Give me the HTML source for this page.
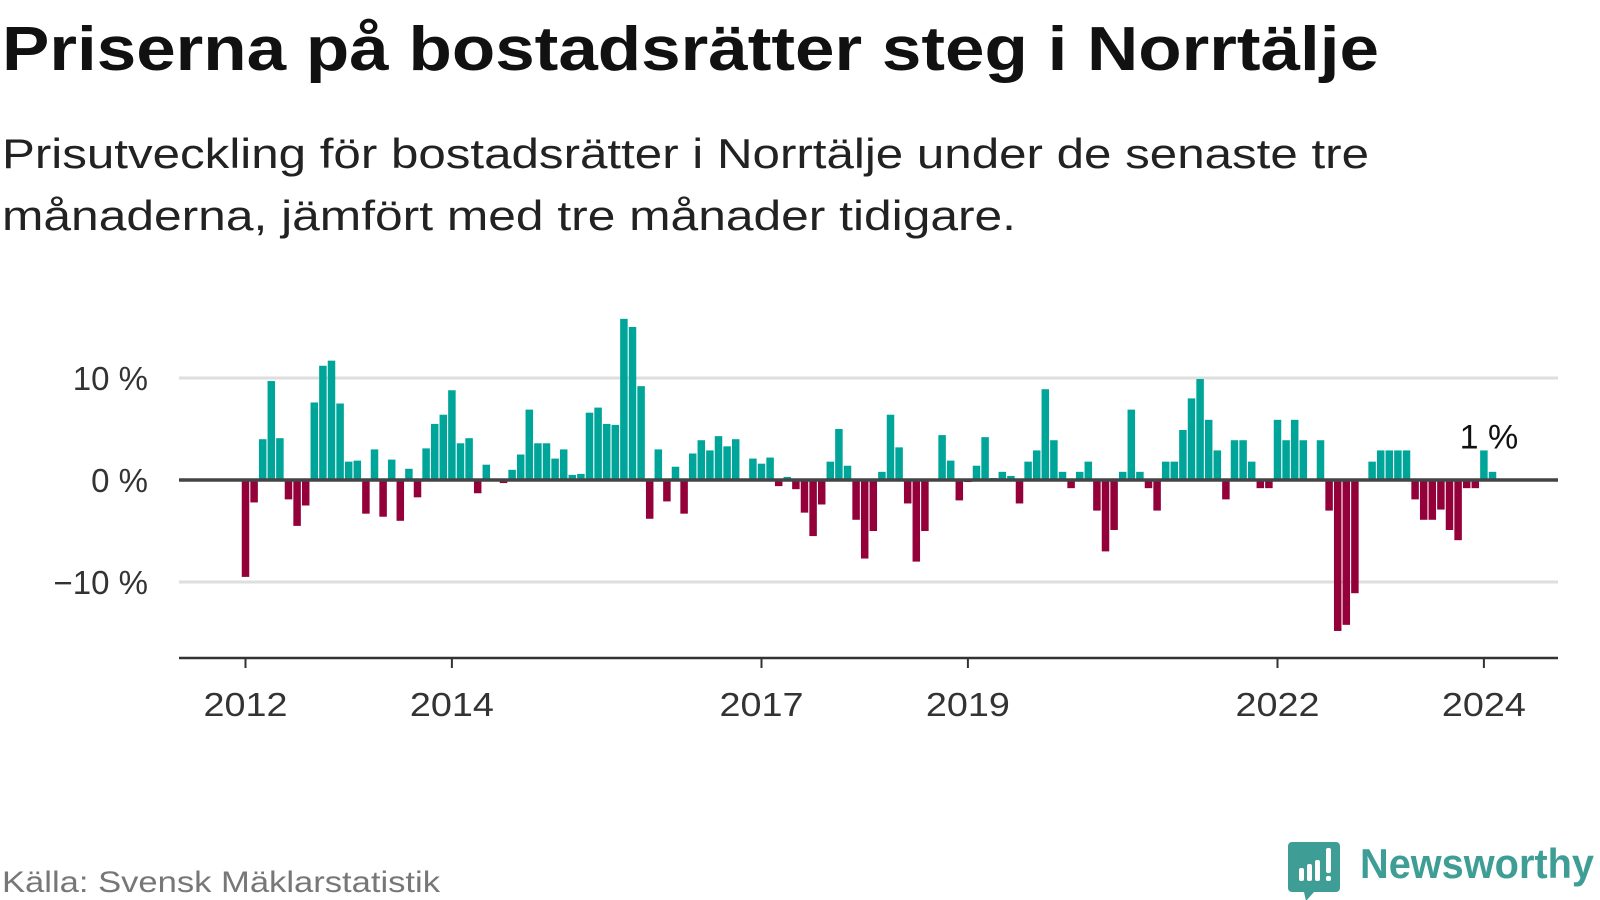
<!DOCTYPE html>
<html><head><meta charset="utf-8"><style>
html,body{margin:0;padding:0;background:#fff;width:1600px;height:900px;overflow:hidden}
svg{display:block;font-family:"Liberation Sans","DejaVu Sans",sans-serif}
</style></head><body>
<svg id="chart" width="1600" height="900" viewBox="0 0 1600 900" xmlns="http://www.w3.org/2000/svg">
<text x="2" y="70" font-size="62" font-weight="bold" fill="#111" textLength="1377" lengthAdjust="spacingAndGlyphs">Priserna på bostadsrätter steg i Norrtälje</text>
<text x="2" y="168" font-size="42" fill="#222" textLength="1367" lengthAdjust="spacingAndGlyphs">Prisutveckling för bostadsrätter i Norrtälje under de senaste tre</text>
<text x="2" y="230" font-size="42" fill="#222" textLength="1014" lengthAdjust="spacingAndGlyphs">månaderna, jämfört med tre månader tidigare.</text>
<g id="grid"></g>
<g id="bars"></g>
<g id="axes"></g>
<text x="2" y="892" font-size="30" fill="#777" textLength="438" lengthAdjust="spacingAndGlyphs">Källa: Svensk Mäklarstatistik</text>
<g>
<path d="M1292 842 h44 a4 4 0 0 1 4 4 v42 a4 4 0 0 1 -4 4 h-22 l-8 9 l-2 -9 h-12 a4 4 0 0 1 -4 -4 v-42 a4 4 0 0 1 4 -4z" fill="#3e9e96"/>
<rect x="1299" y="868" width="5" height="13" rx="2" fill="#fff"/>
<rect x="1307" y="864" width="5" height="17" rx="2" fill="#fff"/>
<rect x="1315" y="860" width="5" height="21" rx="2" fill="#fff"/>
<rect x="1326" y="848" width="5" height="25" rx="2" fill="#fff"/>
<rect x="1326" y="876" width="5" height="5" rx="2" fill="#fff"/>
<text x="1360" y="878" font-size="42" font-weight="bold" fill="#3e9e96" textLength="234" lengthAdjust="spacingAndGlyphs">Newsworthy</text>
</g>
</svg>
<script>
const values = [-9.5,-2.2,4.0,9.7,4.1,-1.9,-4.5,-2.5,7.6,11.2,11.7,7.5,
1.8,1.9,-3.3,3.0,-3.6,2.0,-4.0,1.1,-1.7,3.1,5.5,6.4,
8.8,3.6,4.1,-1.3,1.5,0,-0.3,1.0,2.5,6.9,3.6,3.6,
2.1,3.0,0.5,0.6,6.6,7.1,5.5,5.4,15.8,15.0,9.2,-3.8,
3.0,-2.1,1.3,-3.3,2.6,3.9,2.9,4.3,3.3,4.0,0,2.1,
1.6,2.2,-0.6,0.3,-0.9,-3.2,-5.5,-2.4,1.8,5.0,1.4,-3.9,
-7.7,-5.0,0.8,6.4,3.2,-2.3,-8.0,-5.0,0,4.4,1.9,-2.0,
-0.2,1.4,4.2,0.2,0.8,0.4,-2.3,1.8,2.9,8.9,3.9,0.8,
-0.8,0.8,1.8,-3.0,-7.0,-4.9,0.8,6.9,0.8,-0.8,-3.0,1.8,
1.8,4.9,8.0,9.9,5.9,2.9,-1.9,3.9,3.9,1.8,-0.8,-0.8,
5.9,3.9,5.9,3.9,0,3.9,-3.0,-14.8,-14.2,-11.1,0,1.8,
2.9,2.9,2.9,2.9,-1.9,-3.9,-3.9,-2.9,-4.9,-5.9,-0.8,-0.8,
2.9,0.8];
const startYear = 2012;
const yTicks = [-10, 0, 10];
const yTickLabels = ["\u221210 %", "0 %", "10 %"];
const xTickYears = [2012, 2014, 2017, 2019, 2022, 2024];
const lastLabel = "1 %";

const NS = "http://www.w3.org/2000/svg";
const x0 = 245.5, monthW = 8.6, y0 = 480, pxPer = 10.2;
const xScale = i => x0 + i * monthW;
const yScale = v => y0 - v * pxPer;
function mk(tag, attrs, parent){const e=document.createElementNS(NS,tag);for(const k in attrs)e.setAttribute(k,attrs[k]);parent.appendChild(e);return e;}
const grid = document.getElementById('grid'), bars = document.getElementById('bars'), axes = document.getElementById('axes');
yTicks.forEach((t,k)=>{
  if(t!==0){const l=mk('line',{x1:179,x2:1558,y1:yScale(t),y2:yScale(t),stroke:'#dedede','stroke-width':3},grid);
  
  }
  const tx=mk('text',{x:148,y:yScale(t)+12,'font-size':33,'text-anchor':'end',fill:'#333'},axes);
  tx.textContent=yTickLabels[k];
  
  
});
values.forEach((v,i)=>{
  if(v===0)return;
  const top = v>0 ? yScale(v) : y0;
  const h = Math.abs(v)*pxPer;
  const r=mk('rect',{x:xScale(i)-3.75,y:top,width:7.5,height:h,fill:v>0?'#00a59a':'#93003a'},bars);
  
  
});
const zl=mk('line',{x1:179,x2:1558,y1:y0,y2:y0,stroke:'#444','stroke-width':3.5},axes);


const xa=mk('line',{x1:179,x2:1558,y1:658,y2:658,stroke:'#333','stroke-width':2.5},axes);


xTickYears.forEach(yr=>{
  const x=xScale((yr-startYear)*12);
  const tk=mk('line',{x1:x,x2:x,y1:658,y2:668,stroke:'#333','stroke-width':2},axes);
  
  
  const tx=mk('text',{x:x,y:716,'font-size':33,'text-anchor':'middle',fill:'#333',textLength:84,lengthAdjust:'spacingAndGlyphs'},axes);
  tx.textContent=String(yr);
  
  
});
const li=values.length-2;
const ll=mk('text',{x:xScale(li)+5,y:yScale(values[li])-2,'font-size':34,'text-anchor':'middle',fill:'#111'},axes);
ll.textContent=lastLabel;


</script>
</body></html>
